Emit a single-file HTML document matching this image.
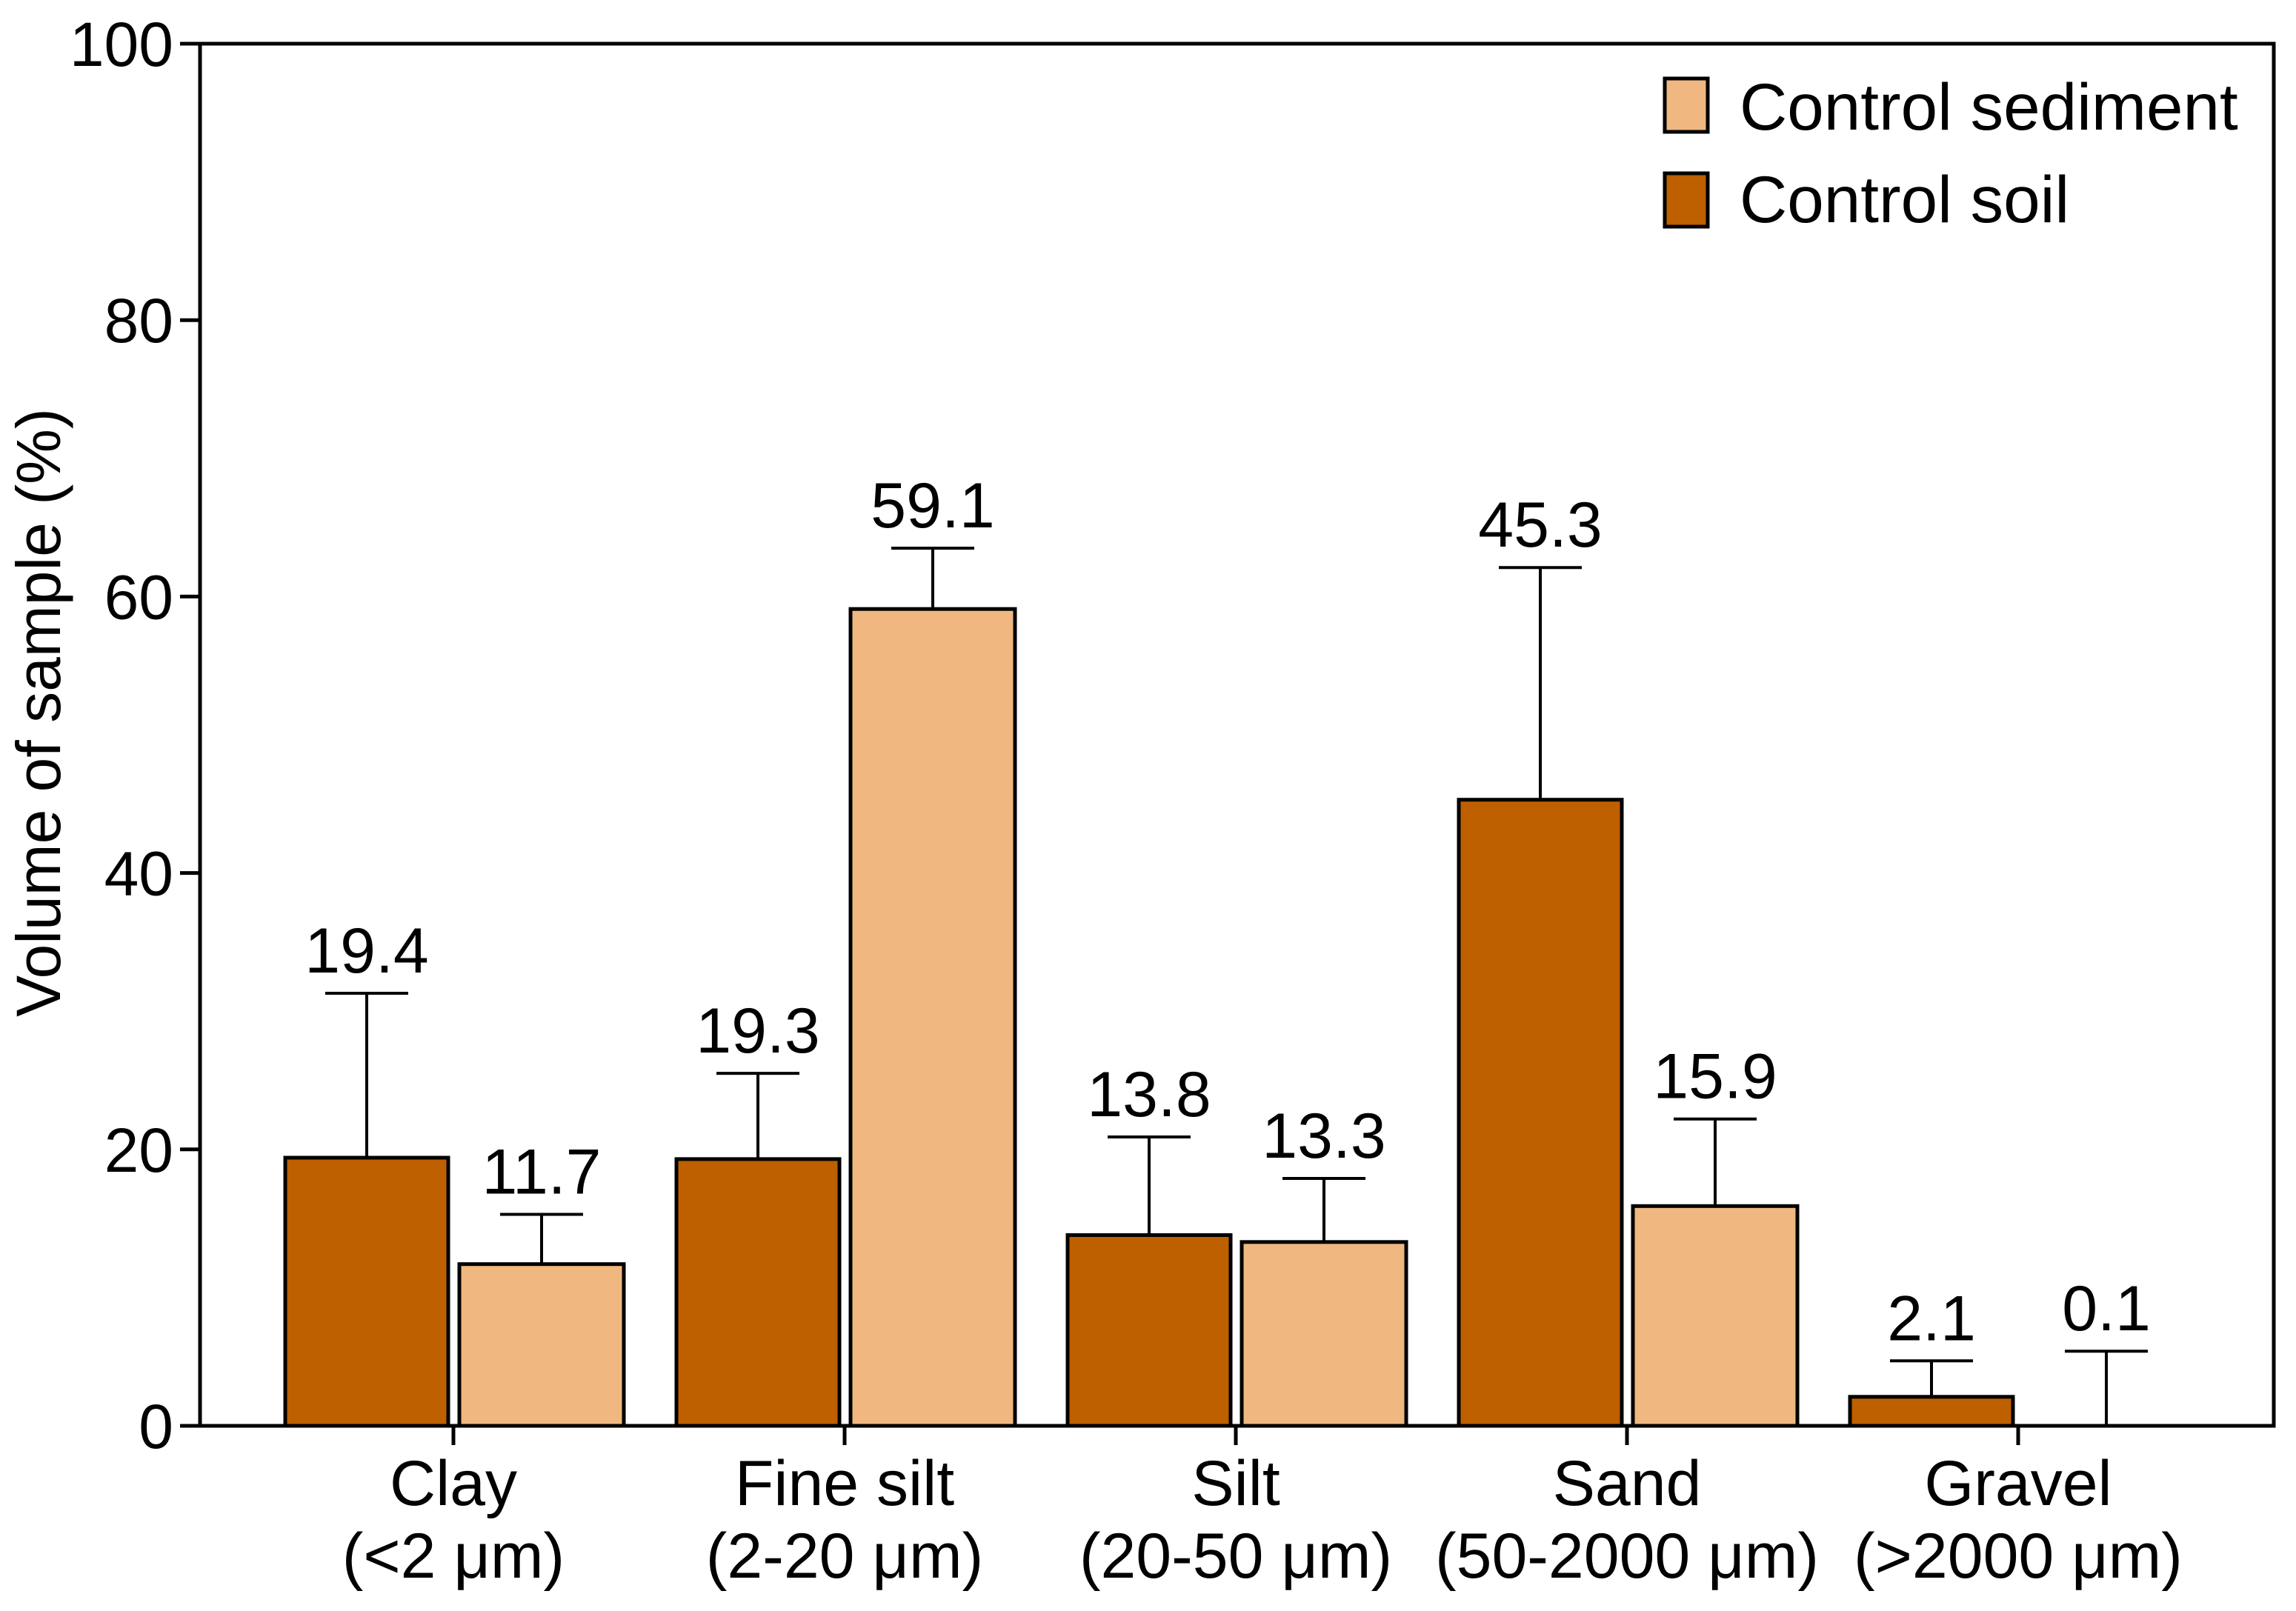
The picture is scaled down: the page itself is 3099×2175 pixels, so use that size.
<!DOCTYPE html>
<html><head><meta charset="utf-8"><style>
html,body{margin:0;padding:0;background:#fff}
svg{display:block}
text{font-family:"Liberation Sans",Arial,sans-serif;fill:#000}
</style></head><body>
<svg id="chart" width="3099" height="2175" viewBox="0 0 3099 2175" xmlns="http://www.w3.org/2000/svg">
<g id="frame"></g>
<g id="bars"></g>
<g id="axes"></g>
<text x="59" y="962" font-size="84" text-anchor="middle" dominant-baseline="middle" transform="rotate(-90 59 962)">Volume of sample (%)</text>
<g>
<rect x="2247" y="106" width="58" height="72" fill="#F0B880" stroke="#000" stroke-width="5"/>
<text x="2348" y="175" font-size="89">Control sediment</text>
<rect x="2247" y="234" width="58" height="72" fill="#BE5F00" stroke="#000" stroke-width="5"/>
<text x="2348" y="300" font-size="89">Control soil</text>
</g>
</svg>
<script>
const categories = ["Clay", "Fine silt", "Silt", "Sand", "Gravel"];
const subLabels = ["(<2 \u03bcm)", "(2-20 \u03bcm)", "(20-50 \u03bcm)", "(50-2000 \u03bcm)", "(>2000 \u03bcm)"];
const soilValues = [19.4, 19.3, 13.8, 45.3, 2.1];
const soilErrTop = [31.3, 25.5, 20.9, 62.1, 4.7];
const sedimentValues = [11.7, 59.1, 13.3, 15.9, 0.1];
const sedimentErrTop = [15.3, 63.5, 17.9, 22.2, 5.4];
const yTicks = [0, 20, 40, 60, 80, 100];

const NS = "http://www.w3.org/2000/svg";
const X0 = 270, X1 = 3069, Y0 = 1925, YT = 59;
const yScale = v => Y0 - (v / 100) * (Y0 - YT);
const xCenter = i => 612 + i * 528;
function mk(tag, attrs, parent) {
  const e = document.createElementNS(NS, tag);
  for (const k in attrs) e.setAttribute(k, attrs[k]);
  parent.appendChild(e);
  return e;
}
const barsG = document.getElementById("bars");
const axesG = document.getElementById("axes");
const frameG = document.getElementById("frame");

function drawBar(cx0, cx1, v, errTop, fill, name) {
  const yv = yScale(v);
  const yt = yScale(errTop);
  const cx = (cx0 + cx1) / 2;
  const err = mk("line", {x1: cx, x2: cx, y1: yv, y2: yt, stroke: "#000", "stroke-width": 4}, barsG);
  
  
  const cap = mk("line", {x1: cx - 56, x2: cx + 56, y1: yt, y2: yt, stroke: "#000", "stroke-width": 4}, barsG);
  
  
  if (v > 0.5) {
    const r = mk("rect", {x: cx0, y: yv, width: cx1 - cx0, height: Y0 - yv, fill: fill, stroke: "#000", "stroke-width": 5}, barsG);
    
    
  }
  const t = mk("text", {x: cx, y: yt - 28, "font-size": 86, "text-anchor": "middle"}, barsG);
  t.textContent = v.toFixed(1);
  
  
}

categories.forEach((c, i) => {
  const cx = xCenter(i);
  drawBar(cx - 227, cx - 7, soilValues[i], soilErrTop[i], "#BE5F00", "bar-soil-" + i);
  drawBar(cx + 8, cx + 230, sedimentValues[i], sedimentErrTop[i], "#F0B880", "bar-sediment-" + i);
  const tk = mk("line", {x1: cx, x2: cx, y1: Y0, y2: Y0 + 26, stroke: "#000", "stroke-width": 5}, axesG);
  
  
  const l1 = mk("text", {x: cx, y: 2032, "font-size": 86, "text-anchor": "middle"}, axesG);
  l1.textContent = c;
  
  
  const l2 = mk("text", {x: cx, y: 2130, "font-size": 86, "text-anchor": "middle"}, axesG);
  l2.textContent = subLabels[i];
  
  
});

yTicks.forEach(v => {
  const y = yScale(v);
  const tk = mk("line", {x1: X0 - 27, x2: X0, y1: y, y2: y, stroke: "#000", "stroke-width": 5}, axesG);
  
  
  const t = mk("text", {x: X0 - 36, y: y + 30, "font-size": 84, "text-anchor": "end"}, axesG);
  t.textContent = v;
  
  
});

const fr = mk("rect", {x: X0, y: YT, width: X1 - X0, height: Y0 - YT, fill: "none", stroke: "#000", "stroke-width": 5}, frameG);


</script>
</body></html>
